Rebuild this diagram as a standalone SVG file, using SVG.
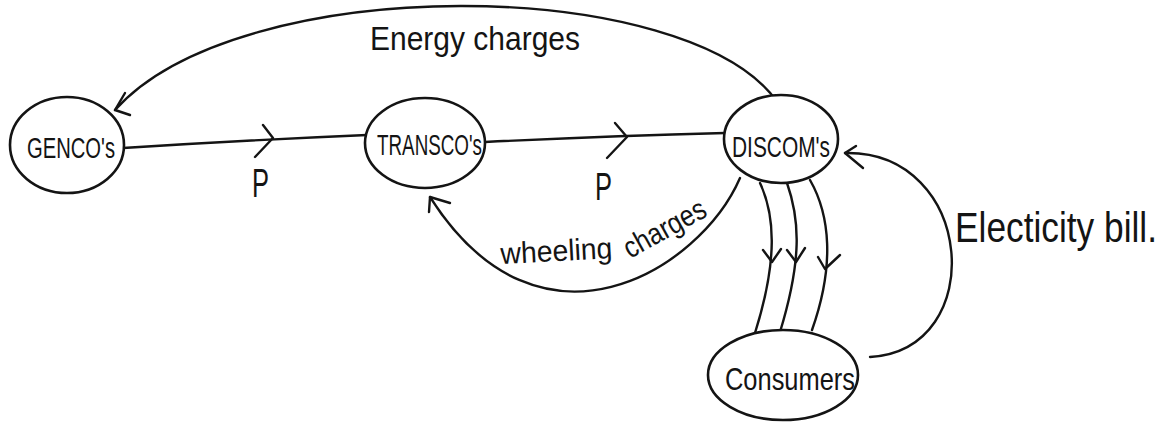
<svg xmlns="http://www.w3.org/2000/svg" width="1167" height="423" viewBox="0 0 1167 423">
  <style>
    .ink { fill: none; stroke: #141414; stroke-width: 2.4; stroke-linecap: round; stroke-linejoin: round; }
    .node { fill: #ffffff; stroke: #141414; stroke-width: 2.6; }
    .lbl { font-family: "Liberation Sans", Arial, sans-serif; fill: #141414; }
  </style>
  <rect width="1167" height="423" fill="#ffffff"/>

  <!-- connectors -->
  <g id="connectors">
    <!-- power flow GENCO -> TRANSCO -->
    <path class="ink" d="M 123 148 Q 250 140 367 135"/>
    <polyline class="ink" points="263,125 273,138 255,157"/>
    <!-- power flow TRANSCO -> DISCOM -->
    <path class="ink" d="M 485 142 Q 610 136 725 133"/>
    <polyline class="ink" points="615,123 627,137 607,158"/>
    <!-- energy charges DISCOM -> GENCO -->
    <path class="ink" d="M 778 103 C 690 -25, 240 -30, 115 110"/>
    <polyline class="ink" points="125,93 115,110 130,115"/>
    <!-- wheeling charges DISCOM -> TRANSCO -->
    <path class="ink" d="M 740 178 C 700 270, 540 370, 430 197"/>
    <polyline class="ink" points="450,203 430,197 429,212"/>
    <!-- supply DISCOM -> consumers -->
    <path class="ink" d="M 760 183 C 775 215, 778 260, 755 333"/>
    <polyline class="ink" points="763,250 772,262 781,249"/>
    <path class="ink" d="M 787 183 C 800 220, 802 260, 780 332"/>
    <polyline class="ink" points="787,250 796,262 805,248"/>
    <path class="ink" d="M 810 180 C 830 215, 835 265, 812 330"/>
    <polyline class="ink" points="818,257 825,269 840,255"/>
    <!-- electricity bill consumers -> DISCOM -->
    <path class="ink" d="M 870 357 C 990 350, 975 150, 845 153"/>
    <polyline class="ink" points="856,146 845,153 863,168"/>
  </g>

  <!-- connector labels -->
  <g id="labels">
    <text class="lbl" x="370" y="50" font-size="34" textLength="210" lengthAdjust="spacingAndGlyphs">Energy charges</text>
    <text class="lbl" x="252" y="197" font-size="40" textLength="17" lengthAdjust="spacingAndGlyphs">P</text>
    <text class="lbl" x="595" y="200" font-size="38" textLength="17" lengthAdjust="spacingAndGlyphs">P</text>
    <text class="lbl" font-size="30" transform="translate(501 264) rotate(-3)" textLength="112" lengthAdjust="spacingAndGlyphs">wheeling</text>
    <text class="lbl" font-size="30" transform="translate(630 259) rotate(-29)" textLength="90" lengthAdjust="spacingAndGlyphs">charges</text>
    <text class="lbl" font-size="36" transform="translate(955 242) scale(1 1.18)" textLength="202" lengthAdjust="spacingAndGlyphs">Electicity bill.</text>
  </g>

  <g id="gencos">
    <ellipse class="node" cx="67" cy="145" rx="57" ry="48"/>
    <text class="lbl" x="27" y="158" font-size="29" textLength="88" lengthAdjust="spacingAndGlyphs">GENCO's</text>
  </g>

  <g id="transcos">
    <ellipse class="node" cx="425" cy="143" rx="60" ry="45"/>
    <text class="lbl" x="377" y="155" font-size="30" textLength="105" lengthAdjust="spacingAndGlyphs">TRANSCO's</text>
  </g>

  <g id="discoms">
    <ellipse class="node" cx="781" cy="139" rx="57" ry="44"/>
    <text class="lbl" x="732" y="157" font-size="30" textLength="98" lengthAdjust="spacingAndGlyphs">DISCOM's</text>
  </g>

  <g id="consumers">
    <ellipse class="node" cx="783" cy="375" rx="75" ry="45"/>
    <text class="lbl" x="725" y="390" font-size="32" textLength="130" lengthAdjust="spacingAndGlyphs">Consumers</text>
  </g>
</svg>
